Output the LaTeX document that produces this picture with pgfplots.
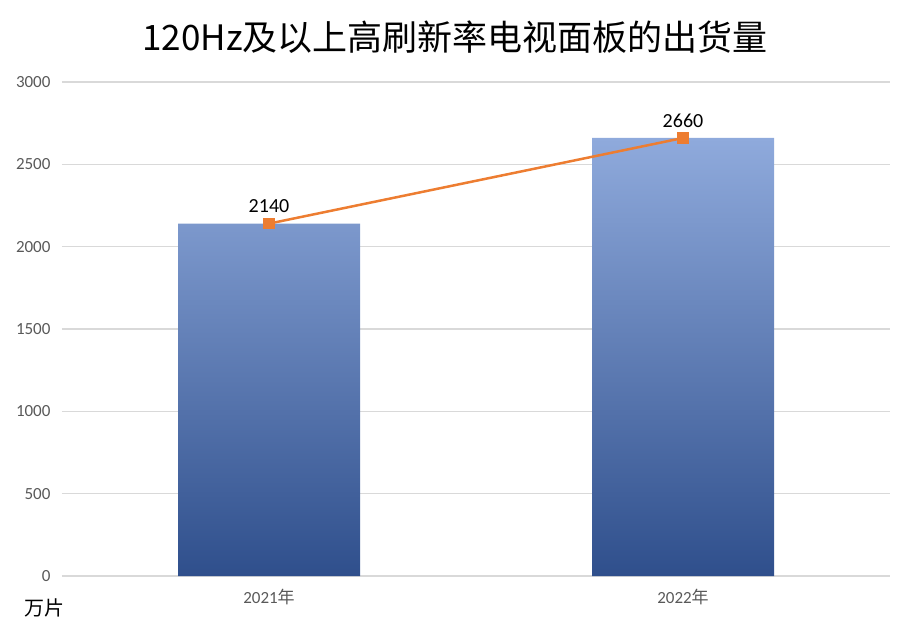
\documentclass[border=0pt]{standalone}
\usepackage{fontspec}
\usepackage{pgfplots}
\pgfplotsset{compat=1.18}
\setmainfont{Carlito}
\newfontfamily\cjk{Noto Sans CJK SC}
\definecolor{gridc}{HTML}{D9D9D9}
\definecolor{tickc}{HTML}{595959}
\definecolor{barTop}{HTML}{8FAADC}
\definecolor{barMid}{HTML}{4472C4}
\definecolor{barBot}{HTML}{2F4F8C}
\definecolor{lineC}{HTML}{ED7D31}
\begin{document}
\begin{tikzpicture}
\path[use as bounding box] (-62pt,-50pt) rectangle (842pt,576pt);
\begin{axis}[
  at={(0pt,0pt)}, anchor=south west,
  scale only axis,
  width=828pt, height=494pt,
  xmin=-0.5, xmax=1.5,
  ymin=0, ymax=3000,
  ytick={0,500,...,3000},
  xtick={0,1},
  xticklabels={2021{\cjk 年},2022{\cjk 年}},
  axis line style={draw=none},
  major tick length=0pt,
  ymajorgrids,
  grid style={gridc, line width=1.5pt},
  scaled y ticks=false,
  /pgf/number format/assume math mode=true,
  /pgf/number format/1000 sep={},
  yticklabel style={font=\fontsize{17}{19}\selectfont, text=tickc, xshift=-8pt},
  xticklabel style={font=\fontsize{17}{19}\selectfont, text=tickc, yshift=-10pt},
  clip=false,
]
\addplot[ybar, bar width=182pt, bar shift=0pt, draw=none,
  top color=barTop, middle color=barMid, bottom color=barBot]
  coordinates {(0,2140) (1,2660)};
\addplot[color=lineC, line width=2.5pt, mark=square*, mark size=4.5pt,
  mark options={solid, fill=lineC},
  nodes near coords,
  every node near coord/.append style={font=\fontsize{20}{22}\selectfont, text=black, yshift=6pt}]
  coordinates {(0,2140) (1,2660)};
\end{axis}
\node[font=\cjk\fontsize{35}{40}\selectfont] at (393pt,539pt) {120Hz及以上高刷新率电视面板的出货量};
\node[font=\cjk\fontsize{20}{22}\selectfont] at (-17pt,-32pt) {万片};
\end{tikzpicture}
\end{document}
